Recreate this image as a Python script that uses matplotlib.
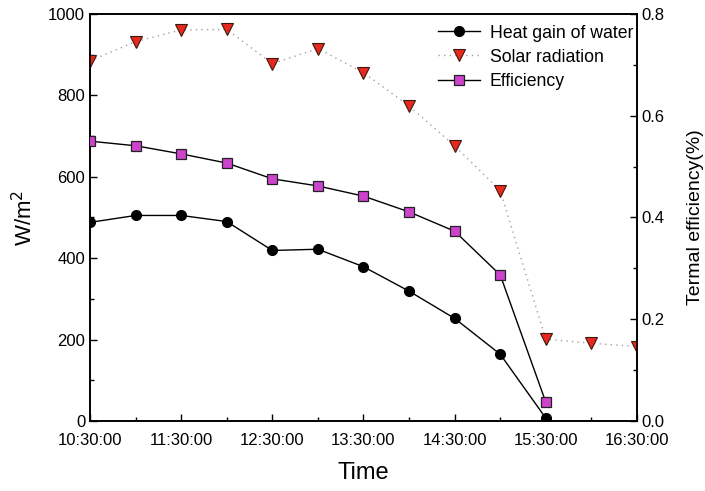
import matplotlib
matplotlib.use("Agg")
import matplotlib.pyplot as plt
from matplotlib.ticker import MultipleLocator, FixedLocator, FormatStrFormatter

plt.rcParams['font.family'] = ['Liberation Sans', 'DejaVu Sans']

# time in minutes after 10:30
times = [0, 30, 60, 90, 120, 150, 180, 210, 240, 270, 300, 330, 360]
tick_labels = ["10:30:00", "11:30:00", "12:30:00", "13:30:00", "14:30:00", "15:30:00", "16:30:00"]

heat_gain = [488, 505, 505, 490, 419, 422, 379, 319, 252, 164, 7]
solar = [885, 932, 961, 962, 878, 915, 856, 774, 676, 566, 201, 191, 183]
efficiency = [0.550, 0.541, 0.525, 0.507, 0.476, 0.462, 0.442, 0.411, 0.373, 0.287, 0.037]

fig = plt.figure(figsize=(7.05, 4.91), dpi=100)
ax = fig.add_axes([0.1277, 0.1426, 0.9035 - 0.1277, 0.9715 - 0.1426])
ax2 = ax.twinx()

l1, = ax.plot(times[:len(heat_gain)], heat_gain, color='black', lw=1.0, marker='o',
              ms=7, mfc='black', mec='black', label='Heat gain of water', zorder=3)
l2, = ax.plot(times, solar, color='#a0a0a0', lw=1.0, ls=(0, (1, 3)), marker='v',
              ms=8, mfc='#e8281e', mec='#3a1a10', mew=0.8, label='Solar radiation', zorder=3)
l3, = ax2.plot(times[:len(efficiency)], efficiency, color='black', lw=1.0, marker='s',
               ms=6.5, mfc='#cc44cc', mec='#222222', mew=0.9, label='Efficiency', zorder=3)

ax.set_xlim(0, 360)
ax.set_ylim(0, 1000)
ax2.set_ylim(0, 0.8)

ax.xaxis.set_major_locator(FixedLocator([0, 60, 120, 180, 240, 300, 360]))
ax.set_xticklabels(tick_labels)
ax.xaxis.set_minor_locator(MultipleLocator(30))
ax.yaxis.set_major_locator(MultipleLocator(200))
ax.yaxis.set_minor_locator(MultipleLocator(100))
ax2.yaxis.set_major_locator(MultipleLocator(0.2))
ax2.yaxis.set_minor_locator(MultipleLocator(0.1))
ax2.yaxis.set_major_formatter(FormatStrFormatter('%.1f'))

for a in (ax, ax2):
    a.tick_params(which='major', direction='in', length=5, width=1.0, labelsize=12)
    a.tick_params(which='minor', direction='in', length=3, width=1.0)
    for s in a.spines.values():
        s.set_linewidth(1.2)
ax.tick_params(axis='y', which='both', right=False)
ax.tick_params(axis='x', which='both', top=False, pad=9)

ax.set_xlabel('Time', fontsize=17, labelpad=10)
ax.set_ylabel('W/m$^2$', fontsize=16, labelpad=8)
ax2.set_ylabel('Termal efficiency(%)', fontsize=14, labelpad=16)

ax2.legend(handles=[l1, l2, l3], loc='upper right', bbox_to_anchor=(1.012, 1.0),
           frameon=False, fontsize=12.7,
           handlelength=2.4, borderaxespad=0.15, labelspacing=0.4, handletextpad=0.55,
           borderpad=0.45)

fig.savefig('out.png', dpi=100)
